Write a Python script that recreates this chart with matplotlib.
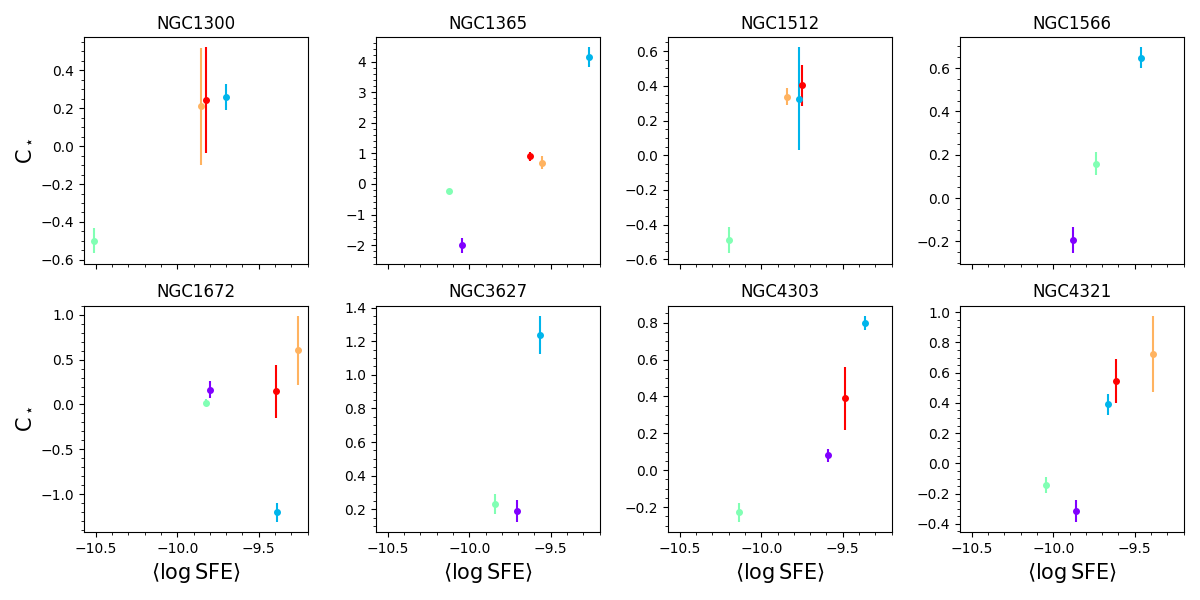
import numpy as np
import matplotlib
matplotlib.use("Agg")
import matplotlib.pyplot as plt

nan = np.nan

galaxies = ['NGC1300', 'NGC1365', 'NGC1512', 'NGC1566',
            'NGC1672', 'NGC3627', 'NGC4303', 'NGC4321']

# one list per bin, one value per galaxy (nan = no measurement)
sfe_bin0 = [nan, -10.047, nan, -9.880, -9.799, -9.707, -9.593, -9.860]
cs_bin0 = [nan, -2.01, nan, -0.196, 0.167, 0.190, 0.082, -0.315]
err_bin0 = [nan, 0.26, nan, 0.06, 0.09, 0.065, 0.035, 0.072]

sfe_bin1 = [-9.700, -9.266, -9.770, -9.463, -9.390, -9.563, -9.362, -9.665]
cs_bin1 = [0.258, 4.14, 0.326, 0.647, -1.204, 1.238, 0.799, 0.391]
err_bin1 = [0.07, 0.32, 0.295, 0.048, 0.105, 0.112, 0.037, 0.071]

sfe_bin2 = [-10.51, -10.126, -10.201, -9.738, -9.821, -9.843, -10.134, -10.045]
cs_bin2 = [-0.498, -0.23, -0.489, 0.159, 0.022, 0.232, -0.228, -0.142]
err_bin2 = [0.068, 0.05, 0.077, 0.055, 0.04, 0.06, 0.052, 0.052]

sfe_bin3 = [-9.854, -9.553, -9.841, nan, -9.260, nan, nan, -9.390]
cs_bin3 = [0.21, 0.70, 0.338, nan, 0.602, nan, nan, 0.725]
err_bin3 = [0.307, 0.21, 0.05, nan, 0.385, nan, nan, 0.25]

sfe_bin4 = [-9.821, -9.628, -9.752, nan, -9.396, nan, -9.488, -9.616]
cs_bin4 = [0.242, 0.90, 0.402, nan, 0.145, nan, 0.389, 0.544]
err_bin4 = [0.278, 0.16, 0.118, nan, 0.30, nan, 0.17, 0.145]

bins = [
    (sfe_bin0, cs_bin0, err_bin0),
    (sfe_bin1, cs_bin1, err_bin1),
    (sfe_bin2, cs_bin2, err_bin2),
    (sfe_bin3, cs_bin3, err_bin3),
    (sfe_bin4, cs_bin4, err_bin4),
]
colors = plt.cm.rainbow(np.linspace(0, 1, len(bins)))

fig, axes = plt.subplots(2, 4, figsize=(12, 6), dpi=100, sharex=True)
fig.subplots_adjust(left=0.07, right=0.9867, top=0.938, bottom=0.113,
                    wspace=0.304, hspace=0.185)

for i, (ax, name) in enumerate(zip(axes.flat, galaxies)):
    for (xs, ys, es), c in zip(bins, colors):
        if np.isnan(xs[i]):
            continue
        ax.errorbar(xs[i], ys[i], yerr=es[i], fmt='o', color=c, ms=4,
                    elinewidth=1.5)
    ax.set_title(name, fontsize=12)
    ax.minorticks_on()

for ax in axes[:, 0]:
    ax.set_ylabel(r'$\mathrm{C}_\star$', fontsize=15)
for ax in axes[1, :]:
    ax.set_xlabel(r'$\langle \log \mathrm{SFE} \rangle$', fontsize=15)
    ax.set_xticks([-10.5, -10.0, -9.5])

fig.savefig('out.png')
